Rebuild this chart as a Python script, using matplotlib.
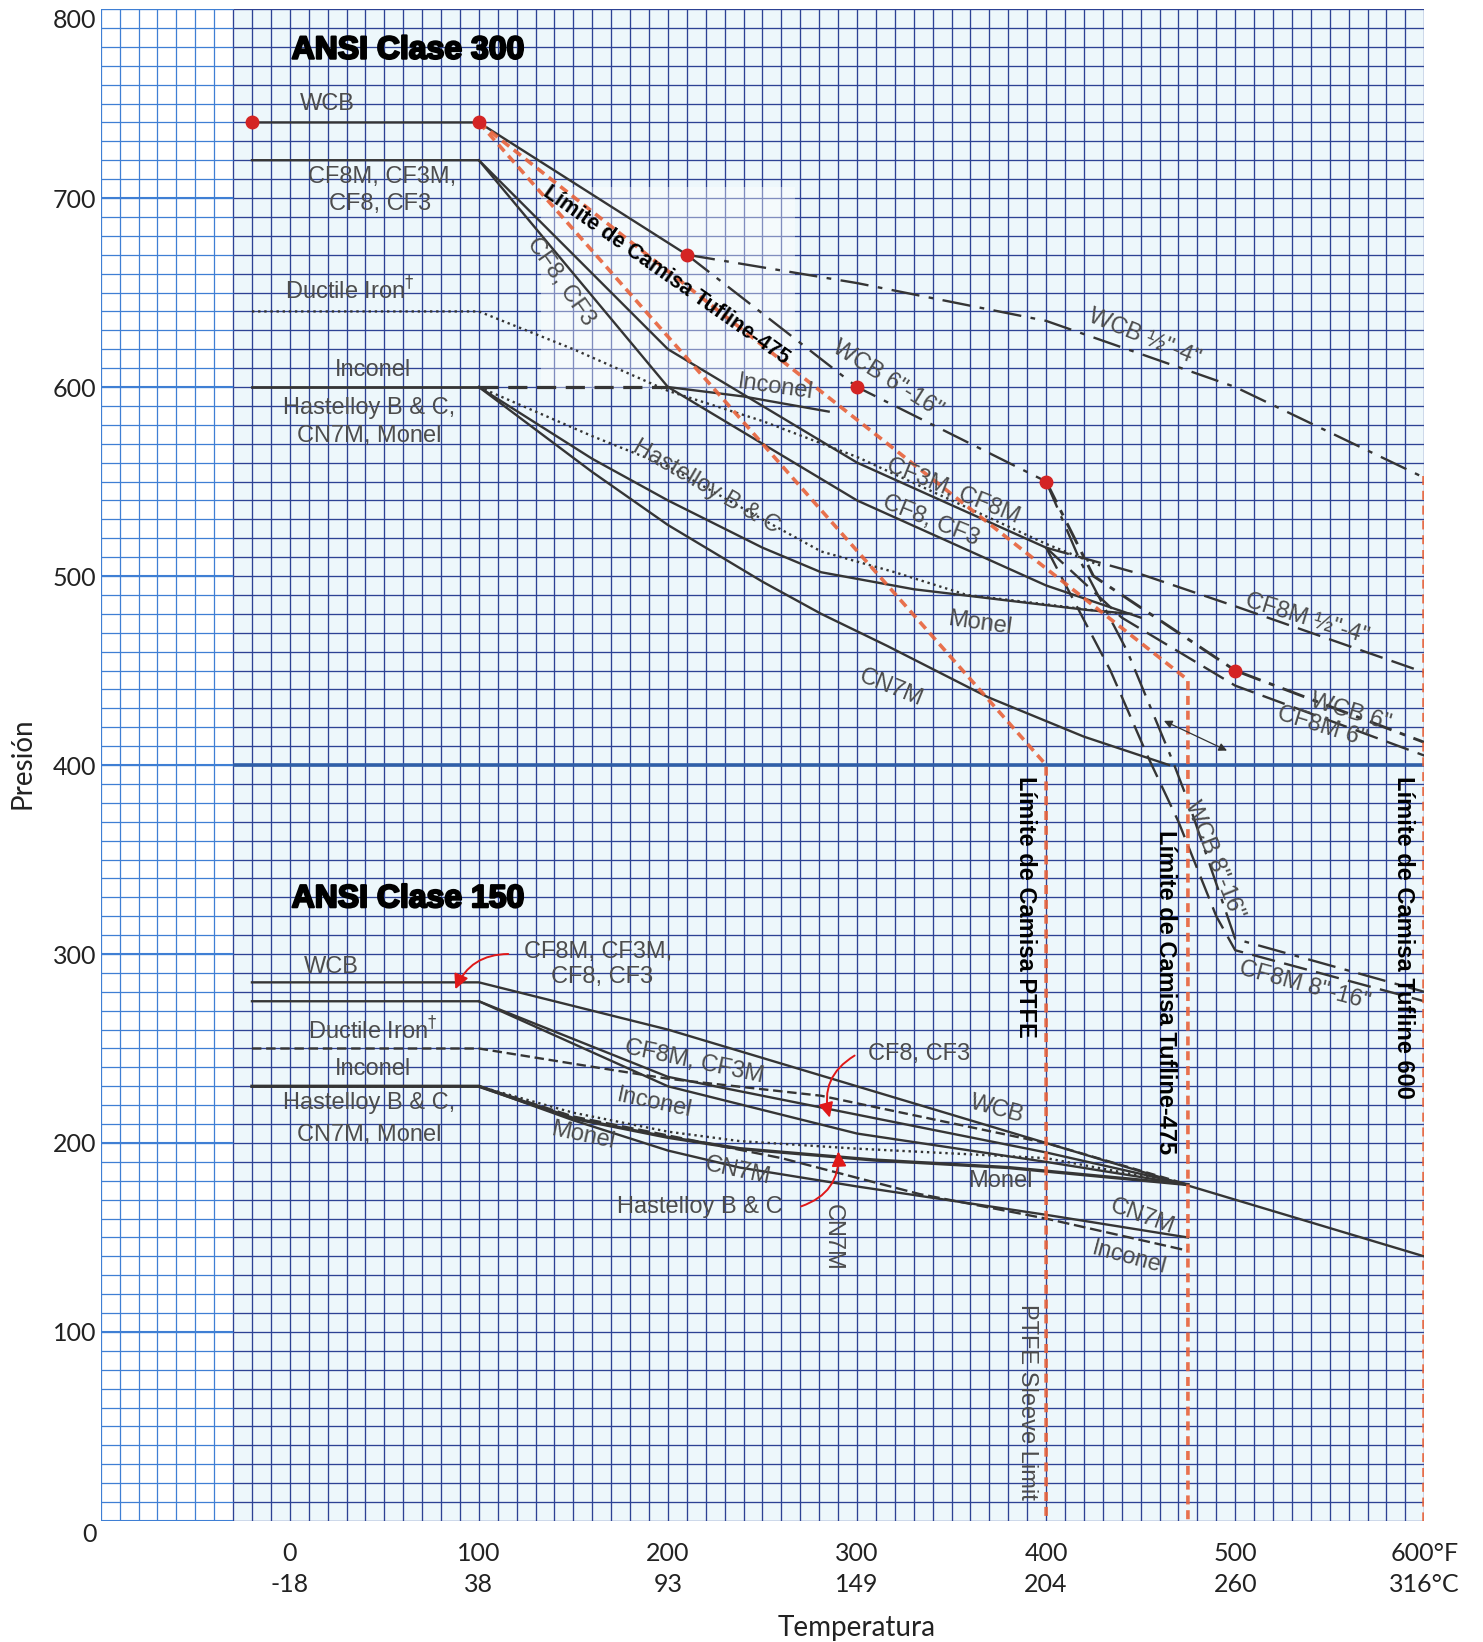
import numpy as np
import matplotlib
matplotlib.use("Agg")
import matplotlib.pyplot as plt
import matplotlib.patheffects as pe
from matplotlib.patches import Rectangle, FancyArrowPatch
from matplotlib.transforms import ScaledTranslation

plt.rcParams['font.family'] = ['Liberation Sans', 'DejaVu Sans']

# axis ticks
temp_f = [0, 100, 200, 300, 400, 500, 600]
temp_c = ["-18", "38", "93", "149", "204", "260", "316°C"]
press_ticks = [0, 100, 200, 300, 400, 500, 600, 700, 800]

# ---- ANSI class 300 (°F, psi) ----
wcb300_t = [-20, 100, 210]
wcb300_p = [740, 740, 670]
wcb300_s_t = [210, 300, 400, 500, 600]          # WCB 1/2"-4"
wcb300_s_p = [670, 655, 635, 600, 552]
wcb300_616_t = [210, 300, 400]                  # WCB 6"-16"
wcb300_616_p = [670, 600, 550]
wcb300_6_t = [400, 425, 500, 600]               # WCB 6"
wcb300_6_p = [550, 500, 450, 412]
wcb300_816_t = [400, 418, 443, 467, 475, 500, 600]   # WCB 8"-16"
wcb300_816_p = [550, 508, 460, 402, 381, 308, 280]
dots300_t = [-20, 100, 210, 300, 400, 500]
dots300_p = [740, 740, 670, 600, 550, 450]

cf8m300_t = [-20, 100, 200, 300, 400]
cf8m300_p = [720, 720, 620, 560, 515]
cf8m300_s_t = [400, 450, 500, 600]              # CF8M 1/2"-4"
cf8m300_s_p = [515, 501, 484, 449]
cf8m300_6_t = [400, 440, 500, 600]              # CF8M 6"
cf8m300_6_p = [515, 478, 442, 405]
cf8m300_816_t = [400, 434, 454, 470, 490, 500, 600]  # CF8M 8"-16"
cf8m300_816_p = [515, 450, 404, 370, 320, 302, 275]
cf8300_t = [100, 200, 300, 400, 450]
cf8300_p = [720, 600, 540, 495, 478]

duct300_t = [-20, 100, 150, 200, 250, 300, 350, 400, 430]
duct300_p = [640, 640, 620, 598, 582, 563, 540, 517, 505]
alloy300_t = [-20, 100]
alloy300_p = [600, 600]
inc300_dash_t = [100, 200]
inc300_dash_p = [600, 600]
inc300_t = [200, 240, 285]
inc300_p = [600, 595, 587]
hast300_t = [100, 160, 200, 250, 281, 320, 358, 400, 440]
hast300_p = [600, 574, 558, 530, 513, 502, 490, 485, 480]
monel300_t = [100, 160, 200, 250, 281, 330, 380, 422, 445]
monel300_p = [600, 562, 540, 515, 502, 493, 487, 482, 480]
cn7m300_t = [100, 160, 200, 250, 281, 316, 369, 420, 465]
cn7m300_p = [600, 555, 527, 497, 480, 463, 436, 415, 400]

# ---- ANSI class 150 ----
wcb150_t = [-20, 100, 200, 300, 400, 500, 600]
wcb150_p = [285, 285, 260, 230, 200, 170, 140]
cf8m150_t = [-20, 100, 200, 300, 400, 475]
cf8m150_p = [275, 275, 235, 215, 195, 178]
cf8150_t = [100, 200, 300, 400, 475]
cf8150_p = [275, 230, 205, 190, 178]
duct150_t = [-20, 100, 162, 200, 281, 400, 475]
duct150_p = [250, 250, 240, 234, 225, 200, 178]
hast150_t = [-20, 100, 150, 200, 238, 300, 400, 475]
hast150_p = [230, 230, 216, 206, 201, 197, 192, 178]
monel150_t = [-20, 100, 150, 200, 238, 309, 380, 475]
monel150_p = [230, 230, 213, 203, 197, 191, 187, 178]
cn7m150_t = [100, 150, 200, 238, 300, 400, 475]
cn7m150_p = [230, 212, 196, 187, 177, 162, 150]
inc150_t = [100, 150, 200, 260, 333, 400, 475]
inc150_p = [230, 214, 204, 192, 173, 160, 143]

# sleeve limits
ptfe_t = [100, 400, 400]
ptfe_p = [740, 400, 0]
tuf475_t = [100, 475, 475]
tuf475_p = [740, 445, 0]
tuf600_t = [600, 600]
tuf600_p = [553, 0]

fig = plt.figure(figsize=(14.83, 16.42), dpi=100)
ax = fig.add_axes([0.0679, 0.0737, 0.8925, 0.9208])
ax.set_xlim(-100, 600)
ax.set_ylim(0, 800)
ax.set_facecolor("#edf7fb")
for s in ax.spines.values():
    s.set_visible(False)

# graph paper
ax.add_patch(Rectangle((-100, 0), 70, 800, facecolor="white", edgecolor="none", zorder=0.3))
ax.vlines(np.arange(-30, 601, 10), 0, 800, color="#2d4294", lw=0.95, zorder=0.5)
ax.hlines(np.arange(0, 801, 10), -30, 600, color="#2d4294", lw=0.95, zorder=0.5)
ax.vlines(np.arange(-100, -30, 10), 0, 800, color="#3f7fd4", lw=0.9, zorder=0.5)
ax.hlines(np.arange(0, 801, 10), -100, -30, color="#3f7fd4", lw=0.9, zorder=0.5)
ax.hlines(np.arange(0, 801, 100), -100, -30, color="#3f7fd4", lw=1.5, zorder=0.5)
ax.hlines([400], -30, 600, color="#2f5fa8", lw=2.6, zorder=0.6)
ax.add_patch(Rectangle((133, 599), 134, 107, facecolor="white", edgecolor="none",
                       alpha=0.4, zorder=0.7))

lc = "#353535"
lw = 1.7
dashdot = (0, (12, 4, 2, 4))
dashed = (0, (10, 4))
dotted = (0, (1, 1.6))

# class 300
ax.plot(wcb300_t, wcb300_p, color=lc, lw=lw, zorder=2)
ax.plot(wcb300_s_t, wcb300_s_p, color=lc, lw=lw, ls=dashdot, zorder=2)
ax.plot(wcb300_616_t, wcb300_616_p, color=lc, lw=lw, ls=dashdot, zorder=2)
ax.plot(wcb300_6_t, wcb300_6_p, color=lc, lw=lw + 0.4, ls=(0, (8, 3, 2, 3)), zorder=2)
ax.plot(wcb300_816_t, wcb300_816_p, color=lc, lw=lw, ls=dashdot, zorder=2)
ax.plot(cf8m300_t, cf8m300_p, color=lc, lw=lw, zorder=2)
ax.plot(cf8m300_s_t, cf8m300_s_p, color=lc, lw=lw, ls=dashed, zorder=2)
ax.plot(cf8m300_6_t, cf8m300_6_p, color=lc, lw=lw, ls=dashed, zorder=2)
ax.plot(cf8m300_816_t, cf8m300_816_p, color=lc, lw=lw, ls=dashed, zorder=2)
ax.plot(cf8300_t, cf8300_p, color=lc, lw=lw, zorder=2)
ax.plot(duct300_t, duct300_p, color=lc, lw=lw, ls=dotted, zorder=2)
ax.plot(alloy300_t, alloy300_p, color=lc, lw=lw + 0.3, zorder=2)
ax.plot(inc300_dash_t, inc300_dash_p, color=lc, lw=lw + 0.6, ls=(0, (6, 3)), zorder=2)
ax.plot(inc300_t, inc300_p, color=lc, lw=lw, zorder=2)
ax.plot(hast300_t, hast300_p, color=lc, lw=lw, ls=dotted, zorder=2)
ax.plot(monel300_t, monel300_p, color=lc, lw=lw, zorder=2)
ax.plot(cn7m300_t, cn7m300_p, color=lc, lw=lw, zorder=2)

# class 150
ax.plot(wcb150_t, wcb150_p, color=lc, lw=lw, zorder=2)
ax.plot(cf8m150_t, cf8m150_p, color=lc, lw=lw, zorder=2)
ax.plot(cf8150_t, cf8150_p, color=lc, lw=lw, zorder=2)
ax.plot(duct150_t, duct150_p, color=lc, lw=lw, ls=(0, (4, 2)), zorder=2)
ax.plot(hast150_t, hast150_p, color=lc, lw=lw, ls=dotted, zorder=2)
ax.plot(monel150_t, monel150_p, color=lc, lw=lw + 0.7, zorder=2)
ax.plot(cn7m150_t, cn7m150_p, color=lc, lw=lw, zorder=2)
ax.plot(inc150_t, inc150_p, color=lc, lw=lw, ls=(0, (5, 2)), zorder=2)

# sleeve limits
oc = "#e8623a"
for t, p in [(ptfe_t, ptfe_p), (tuf475_t, tuf475_p), (tuf600_t, tuf600_p)]:
    ax.plot(t, p, color=oc, lw=2.6, ls=(0, (2.5, 1.6)), alpha=0.9, zorder=2.5)
ax.plot(dots300_t, dots300_p, "o", color="#d42424", ms=9, zorder=3)

# annotations
gray = "#4d4d4d"
fs = 17
def lab(x, y, s, rot=0, **kw):
    kw.setdefault("color", gray)
    kw.setdefault("fontsize", fs)
    ax.text(x, y, s, rotation=rot, rotation_mode="anchor", ha="center", va="center",
            zorder=4, **kw)

heavy = [pe.withStroke(linewidth=1.6, foreground="black")]
ax.text(1, 778, "ANSI Clase 300", fontsize=23, fontweight="bold", ha="left", va="center",
        zorder=4, path_effects=heavy)
ax.text(1, 329, "ANSI Clase 150", fontsize=23, fontweight="bold", ha="left", va="center",
        zorder=4, path_effects=heavy)

lab(20, 750, "WCB")
lab(49, 711, "CF8M, CF3M,")
lab(48, 697, "CF8, CF3")
lab(32, 651, "Ductile Iron$^{\\dagger}$")
lab(44, 609, "Inconel")
lab(42, 589, "Hastelloy B & C,")
lab(42, 574, "CN7M, Monel")
lab(199, 659, "Límite de Camisa Tufline-475", rot=-35, color="black", fontsize=15.5,
    fontweight="bold")
lab(143, 656, "CF8, CF3", rot=-55)
lab(257, 600, "Inconel", rot=-8)
lab(316, 604, "WCB 6\"-16\"", rot=-32)
lab(452, 626, "WCB ½\"-4\"", rot=-22)
lab(220, 547, "Hastelloy B & C", rot=-30)
lab(351, 545, "CF3M, CF8M", rot=-22)
lab(339, 529, "CF8, CF3", rot=-22)
lab(365, 475, "Monel", rot=-8)
lab(318, 441, "CN7M", rot=-22)
lab(538, 477, "CF8M ½\"-4\"", rot=-17)
lab(561, 428, "WCB 6\"", rot=-17)
lab(546, 420, "CF8M 6\"", rot=-17)
lab(489, 350, "WCB 8\"-16\"", rot=-68)
lab(537, 283, "CF8M 8\"-16\"", rot=-15)
vfs = 17
lab(389, 325, "Límite de Camisa PTFE", rot=-90, color="black", fontsize=vfs, fontweight="bold")
lab(463, 280, "Límite de Camisa Tufline-475", rot=-90, color="black", fontsize=vfs,
    fontweight="bold")
lab(589, 309, "Límite de Camisa Tufline 600", rot=-90, color="black", fontsize=vfs,
    fontweight="bold")

lab(22, 293, "WCB")
lab(44, 259, "Ductile Iron$^{\\dagger}$")
lab(44, 239, "Inconel")
lab(42, 221, "Hastelloy B & C,")
lab(42, 204, "CN7M, Monel")
lab(163, 301, "CF8M, CF3M,")
lab(165, 288, "CF8, CF3")
lab(214, 243, "CF8M, CF3M", rot=-12)
lab(193, 221, "Inconel", rot=-12)
lab(155, 204, "Monel", rot=-12)
lab(237, 185, "CN7M", rot=-12)
lab(217, 166, "Hastelloy B & C")
lab(333, 247, "CF8, CF3")
lab(374, 218, "WCB", rot=-15)
lab(376, 180, "Monel")
lab(287, 150, "CN7M", rot=-90)
lab(451, 161, "CN7M", rot=-20)
lab(444, 139, "Inconel", rot=-15)
lab(390, 63, "PTFE Sleeve Limit", rot=-90)

arrows = [((117, 300), (87, 280), 0.35), ((300, 247), (286, 212), 0.4),
          ((269, 166), (290, 197), 0.4)]
for a, b, r in arrows:
    ax.add_patch(FancyArrowPatch(a, b, connectionstyle=f"arc3,rad={r}", arrowstyle="-|>",
                                 mutation_scale=22, color="#e01818", lw=1.4, zorder=4))
ax.add_patch(FancyArrowPatch((461, 424), (497, 407), arrowstyle="<|-|>", mutation_scale=12,
                             color="#333333", lw=0.9, zorder=4))

# axes text
ax.set_xticks(temp_f)
ax.set_xticklabels([f"{f}°F\n{c}" if f == 600 else f"{f}\n{c}" for f, c in zip(temp_f, temp_c)],
                   fontsize=18, family="Lato", linespacing=1.45)
ax.set_yticks(press_ticks)
ax.set_yticklabels([str(p) for p in press_ticks], fontsize=18, family="Lato")
ax.tick_params(axis="both", length=0, colors="#222222")
ax.tick_params(axis="x", pad=15)
ax.tick_params(axis="y", pad=3)
for t, p in zip(ax.get_yticklabels(), press_ticks):
    if p in (0, 800):
        dy = -0.12 if p == 0 else -0.09
        t.set_transform(t.get_transform() + ScaledTranslation(0, dy, fig.dpi_scale_trans))
ax.text(300, 0, "Temperatura", ha="center", va="bottom", fontsize=20, family="Lato",
        color="#222222",
        transform=ax.get_xaxis_transform() + ScaledTranslation(0, -1.2, fig.dpi_scale_trans))
fig.text(0.0155, 0.535, "Presión", rotation=90, ha="center", va="center", fontsize=20,
         family="Lato", color="#222222")

fig.savefig("out.png", dpi=100, facecolor="white")
